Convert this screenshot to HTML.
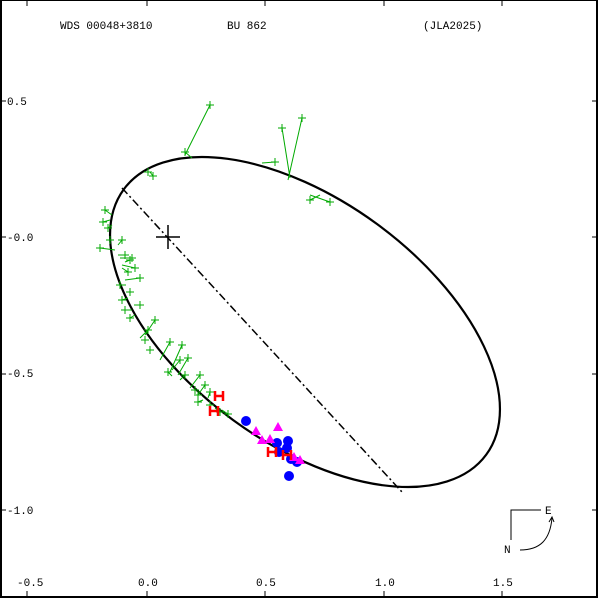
<!DOCTYPE html>
<html><head><meta charset="utf-8"><style>
body{margin:0;background:#fff}
svg{display:block}
text{font-family:"Liberation Mono",monospace;font-size:11px;fill:#000}
</style></head><body>
<svg id="s" width="600" height="600" viewBox="0 0 600 600">
<rect x="1" y="0" width="596" height="597" fill="none" stroke="#000" stroke-width="2"/>
<g stroke="#000" stroke-width="1">
<path d="M27 0v6M147 0v6M265 0v6M384 0v6M502 0v6M27 597v-6M147 597v-6M265 597v-6M384 597v-6M502 597v-6"/>
<path d="M1 101h5M1 237h5M1 374h5M1 510h5M597 101h-5M597 237h-5M597 374h-5M597 510h-5"/>
</g>
<text x="60" y="29">WDS 00048+3810</text>
<text x="227" y="29">BU  862</text>
<text x="423" y="29">(JLA2025)</text>
<text x="7" y="105">0.5</text>
<text x="7" y="241">-0.0</text>
<text x="7" y="377">-0.5</text>
<text x="7" y="514">-1.0</text>
<text x="17" y="586">-0.5</text>
<text x="138" y="586">0.0</text>
<text x="256" y="586">0.5</text>
<text x="375" y="586">1.0</text>
<text x="493" y="586">1.5</text>
<path d="M511 540V510h30" fill="none" stroke="#000"/>
<text x="545" y="514">E</text>
<text x="504" y="553">N</text>
<path d="M520 550c20 0 30-10 32-32" fill="none" stroke="#000"/>
<path d="M549 522l3-5 2 5" fill="none" stroke="#000"/>
<path d="M122 188L402 492" stroke="#000" stroke-width="1.5" stroke-dasharray="8,3,2,3" fill="none"/>
<path d="M156 237h24M168 225v24" stroke="#000" stroke-width="1.5"/>
<ellipse cx="305" cy="322" rx="224.6" ry="121.6" transform="rotate(36.2 305 322)" fill="none" stroke="#000" stroke-width="2.2"/>
<g id="g" stroke="#0a0" stroke-width="1" fill="none"></g>
<g id="o"></g>
</svg>
<script>
var G=[[210,105,185,155],[185,152,192,158],[282,128,290,178],[302,118,288,180],[275,162,262,163],[310,200,320,195],[330,202,310,195],[148,172,150,172],[153,176,150,172],[105,210,112,215],[103,222,110,220],[108,228,112,225],[110,240,113,240],[100,248,115,250],[122,240,118,245],[125,255,118,255],[132,258,120,258],[135,268,122,265],[128,272,122,268],[140,278,125,280],[120,285,126,285],[130,292,127,292],[122,300,128,298],[125,310,132,310],[130,318,135,315],[140,305,134,305],[155,320,145,335],[148,330,140,338],[145,340,142,340],[150,350,152,350],[170,342,160,360],[182,345,170,372],[180,360,172,370],[188,358,178,375],[168,372,172,376],[185,375,180,380],[200,375,190,388],[195,390,198,390],[205,385,200,392],[198,402,203,400],[210,405,208,405],[220,412,215,408],[228,414,222,410],[198,395,200,392],[130,260,125,262],[210,392,208,398]];
var g=document.getElementById("g"),s="";
G.forEach(function(a){s+='<path d="M'+a[0]+' '+a[1]+'L'+a[2]+' '+a[3]+'M'+(a[0]-4)+' '+a[1]+'h8M'+a[0]+' '+(a[1]-4)+'v8"/>';});
g.innerHTML=s;
var o="";
[[246,421],[277,443],[287,448],[279,452],[291,459],[297,462],[288,441],[289,476]].forEach(function(c){o+='<circle cx="'+c[0]+'" cy="'+c[1]+'" r="5" fill="#00f"/>';});
[[278,428],[256,432],[262,441],[300,461],[270,440],[294,458]].forEach(function(c){o+='<path d="M'+c[0]+' '+(c[1]-6)+'l5 9h-10z" fill="#f0f"/>';});
[[219,396],[214,411],[272,452],[287,455]].forEach(function(c){o+='<path d="M'+(c[0]-4)+' '+(c[1]-5)+'v10M'+(c[0]+4)+' '+(c[1]-5)+'v10M'+(c[0]-4)+' '+c[1]+'h8" stroke="#f00" stroke-width="2.5"/>';});
document.getElementById("o").innerHTML=o;
</script>
</body></html>
